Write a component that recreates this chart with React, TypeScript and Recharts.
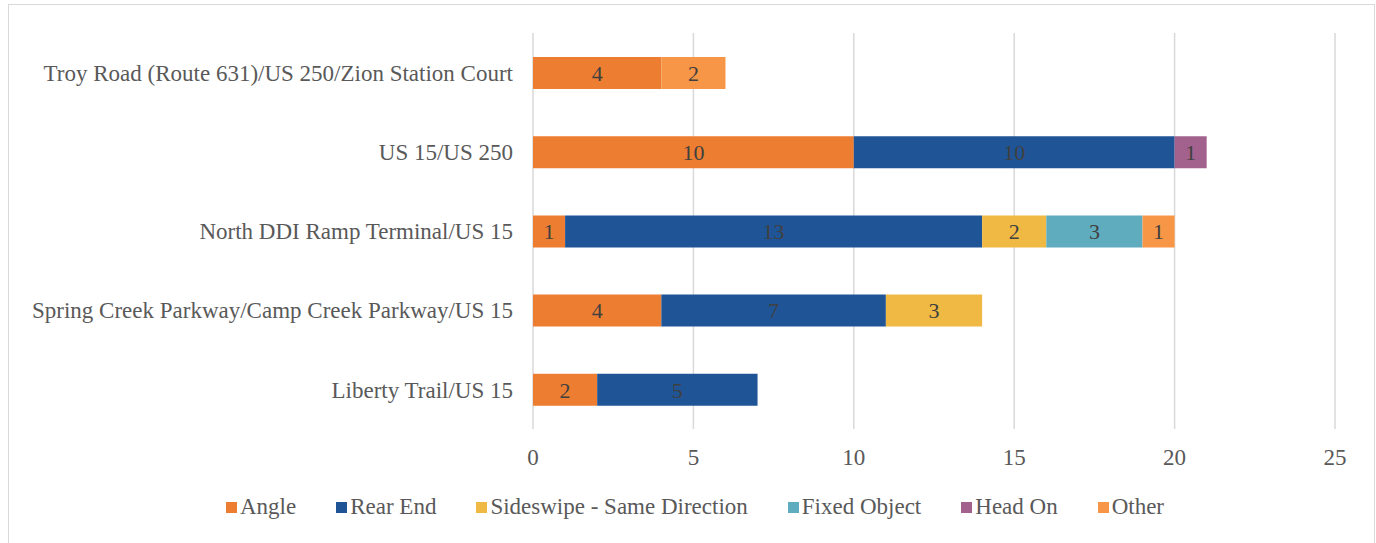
import React from 'react';
import {
  BarChart,
  Bar,
  XAxis,
  YAxis,
  CartesianGrid,
  LabelList,
} from 'recharts';

const categories = [
  'Troy Road (Route 631)/US 250/Zion Station Court',
  'US 15/US 250',
  'North DDI Ramp Terminal/US 15',
  'Spring Creek Parkway/Camp Creek Parkway/US 15',
  'Liberty Trail/US 15',
];

const angle = [4, 10, 1, 4, 2];
const rearEnd = [0, 10, 13, 7, 5];
const sideswipe = [0, 0, 2, 3, 0];
const fixedObject = [0, 0, 3, 0, 0];
const headOn = [0, 1, 0, 0, 0];
const other = [2, 0, 1, 0, 0];

const xTicks = [0, 5, 10, 15, 20, 25];

const SERIES = [
  { key: 'angle', name: 'Angle', color: '#ED7D31', values: angle },
  { key: 'rearEnd', name: 'Rear End', color: '#1F5597', values: rearEnd },
  { key: 'sideswipe', name: 'Sideswipe - Same Direction', color: '#F0B944', values: sideswipe },
  { key: 'fixedObject', name: 'Fixed Object', color: '#5FACBF', values: fixedObject },
  { key: 'headOn', name: 'Head On', color: '#A2628D', values: headOn },
  { key: 'other', name: 'Other', color: '#F79646', values: other },
];

const FONT = '"Liberation Serif", "DejaVu Serif", serif';
const TEXT = '#595959';
const FS = 23;

const data = categories.map((name, i) => {
  const row: Record<string, string | number> = { name };
  SERIES.forEach(s => {
    row[s.key] = s.values[i];
  });
  return row;
});

function ChartLegend() {
  return (
    <div
      style={{
        position: 'absolute',
        left: 0,
        top: 494,
        width: 1376,
        display: 'flex',
        justifyContent: 'center',
        gap: 40,
        fontFamily: FONT,
        fontSize: FS,
        color: TEXT,
        paddingLeft: 14,
        boxSizing: 'border-box',
      }}
    >
      {SERIES.map(s => (
        <div key={s.key} style={{ display: 'flex', alignItems: 'center' }}>
          <span style={{ width: 11, height: 11, background: s.color, marginRight: 3, display: 'inline-block' }} />
          <span>{s.name}</span>
        </div>
      ))}
    </div>
  );
}

export default function App() {
  return (
    <div style={{ position: 'absolute', left: 0, top: 0, width: 1376, height: 543, background: '#fff', overflow: 'hidden' }}>
      <div
        style={{
          position: 'absolute',
          left: 8,
          top: 4,
          width: 1365,
          height: 560,
          border: '1.5px solid #d9d9d9',
        }}
      />
      <div style={{ position: 'absolute', left: 0, top: 0 }}>
        <BarChart
          width={1376}
          height={543}
          data={data}
          layout="vertical"
          margin={{ top: 33, right: 41, bottom: 84, left: 0 }}
          barSize={32}
        >
          <CartesianGrid horizontal={false} stroke="#d9d9d9" strokeWidth={1.5} />
          <XAxis
            type="number"
            domain={[0, 25]}
            ticks={xTicks}
            axisLine={false}
            tickLine={false}
            tickMargin={14}
            height={30}
            tick={{ fill: TEXT, fontSize: FS, fontFamily: FONT }}
          />
          <YAxis
            type="category"
            dataKey="name"
            width={533}
            axisLine={false}
            tickLine={false}
            tickMargin={14}
            tick={{ fill: TEXT, fontSize: FS, fontFamily: FONT }}
          />
          {SERIES.map(s => (
            <Bar key={s.key} dataKey={s.key} name={s.name} stackId="a" fill={s.color} isAnimationActive={false}>
              <LabelList
                dataKey={s.key}
                position="center"
                formatter={(v: number) => (v ? v : '')}
                fill="#404040"
                fontSize={22}
                fontFamily={FONT}
              />
            </Bar>
          ))}
        </BarChart>
      </div>
      <ChartLegend />
    </div>
  );
}
